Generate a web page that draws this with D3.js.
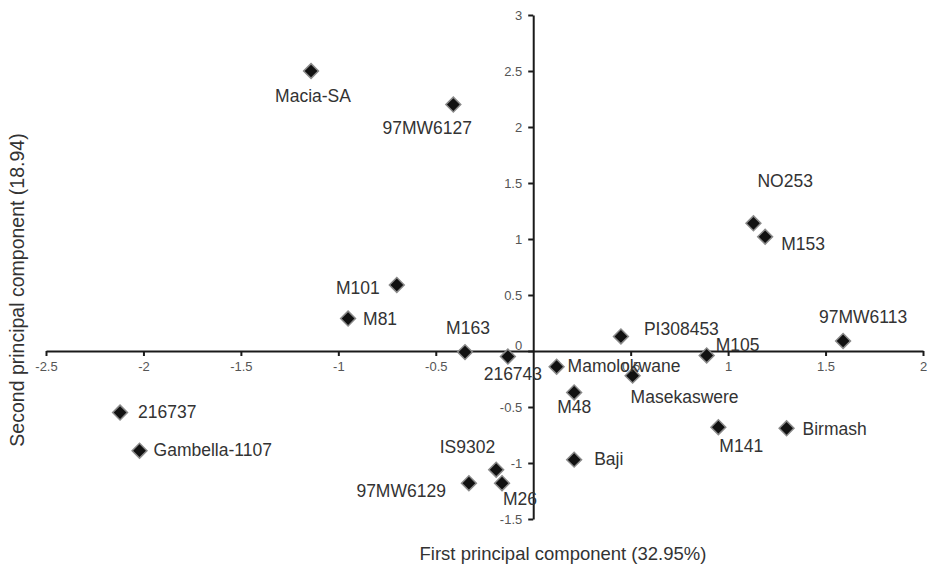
<!DOCTYPE html>
<html>
<head>
<meta charset="utf-8">
<script src="https://cdn.jsdelivr.net/npm/d3@7"></script>
<style>
  body { margin: 0; background: #fff; }
  svg text { font-family: Arial, "Liberation Sans", sans-serif; }
</style>
</head>
<body>
<div id="graph"></div>
<script>
let w = 929;
let h = 570;

// accessions and their scores on the first two components
let names = ["Macia-SA", "97MW6127", "NO253", "M153", "M101", "M81", "M163", "216743",
  "PI308453", "M105", "97MW6113", "Mamolokwane", "M48", "Masekaswere", "216737",
  "Gambella-1107", "M141", "Birmash", "Baji", "IS9302", "97MW6129", "M26"];
let pc1 = [-1.14, -0.41, 1.13, 1.19, -0.70, -0.95, -0.35, -0.13,
  0.45, 0.89, 1.59, 0.12, 0.21, 0.51, -2.12,
  -2.02, 0.95, 1.30, 0.21, -0.19, -0.33, -0.16];
let pc2 = [2.50, 2.20, 1.14, 1.02, 0.59, 0.29, -0.01, -0.05,
  0.13, -0.04, 0.09, -0.14, -0.37, -0.22, -0.55,
  -0.89, -0.68, -0.69, -0.97, -1.06, -1.18, -1.18];

let xTicks = [-2.5, -2, -1.5, -1, -0.5, 0.5, 1, 1.5, 2];
let yTicks = [-1.5, -1, -0.5, 0, 0.5, 1, 1.5, 2, 2.5, 3];

let xTitle = "First principal component (32.95%)";
let yTitle = "Second principal component (18.94)";

// where each label sits next to its marker: anchor, dx, dy
let labelPlace = {
  "Macia-SA": ["middle", 2, 31],
  "97MW6127": ["middle", -26, 29],
  "NO253": ["start", 4, -36],
  "M153": ["start", 16, 13],
  "M101": ["end", -17, 9],
  "M81": ["start", 15, 6],
  "M163": ["middle", 3, -18],
  "216743": ["middle", 5, 23],
  "PI308453": ["start", 23, -1],
  "M105": ["start", 9, -4],
  "97MW6113": ["middle", 20, -18],
  "Mamolokwane": ["start", 11, 5],
  "M48": ["middle", 0, 21],
  "Masekaswere": ["start", -2, 27],
  "216737": ["start", 18, 5],
  "Gambella-1107": ["start", 14, 5],
  "M141": ["start", 1, 25],
  "Birmash": ["start", 16, 7],
  "Baji": ["start", 20, 5],
  "IS9302": ["end", -1, -17],
  "97MW6129": ["end", -23, 14],
  "M26": ["start", 1, 22]
};

let points = names.map(function(n, i){
  return {name: n, x: pc1[i], y: pc2[i]};
});

let xScale = d3.scaleLinear().domain([-2.5, 2]).range([46, 923]);
let yScale = d3.scaleLinear().domain([-1.5, 3]).range([519, 15]);

let viz = d3.select("#graph")
  .append("svg")
    .attr("width", w)
    .attr("height", h)
;

let xAxis = d3.axisBottom(xScale)
  .tickValues(xTicks)
  .tickSize(5)
  .tickSizeOuter(0)
  .tickPadding(6)
  .tickFormat(function(d){ return String(d); });

let yAxis = d3.axisLeft(yScale)
  .tickValues(yTicks)
  .tickSize(5)
  .tickSizeOuter(0)
  .tickPadding(6)
  .tickFormat(function(d){ return String(d); });

let xAxisGroup = viz.append("g").attr("class", "xaxis")
  .attr("transform", "translate(0," + yScale(0) + ")")
  .call(xAxis);

let yAxisGroup = viz.append("g").attr("class", "yaxis")
  .attr("transform", "translate(" + xScale(0) + ",0)")
  .call(yAxis);

viz.selectAll(".xaxis path, .yaxis path, .xaxis line, .yaxis line")
  .attr("stroke", "#1a1a1a")
  .attr("stroke-width", 2);
viz.selectAll(".xaxis text, .yaxis text")
  .attr("fill", "#555")
  .style("font-size", "13px");

// the zero label sits just above the horizontal axis
yAxisGroup.selectAll(".tick text")
  .filter(function(d){ return d === 0; })
  .attr("y", -6);

// markers
let diamond = d3.symbol().type(d3.symbolSquare).size(110);

viz.append("g").selectAll("path.pt").data(points).enter()
  .append("path")
    .attr("class", "pt")
    .attr("d", diamond)
    .attr("transform", function(d){
      return "translate(" + xScale(d.x) + "," + yScale(d.y) + ") rotate(45)";
    })
    .attr("fill", "#111")
    .attr("stroke", "#8a8a8a")
    .attr("stroke-width", 1.5)
;

// labels
viz.append("g").selectAll("text.lab").data(points).enter()
  .append("text")
    .attr("class", "lab")
    .attr("x", function(d){ return xScale(d.x) + labelPlace[d.name][1]; })
    .attr("y", function(d){ return yScale(d.y) + labelPlace[d.name][2]; })
    .attr("text-anchor", function(d){ return labelPlace[d.name][0]; })
    .attr("fill", "#333")
    .style("font-size", "17.5px")
    .text(function(d){ return d.name; })
;

// axis titles
viz.append("text")
  .attr("x", 563)
  .attr("y", 560)
  .attr("text-anchor", "middle")
  .attr("fill", "#333")
  .style("font-size", "18.5px")
  .text(xTitle);

viz.append("text")
  .attr("transform", "translate(24,290) rotate(-90)")
  .attr("text-anchor", "middle")
  .attr("fill", "#333")
  .style("font-size", "19.5px")
  .text(yTitle);
</script>
</body>
</html>
